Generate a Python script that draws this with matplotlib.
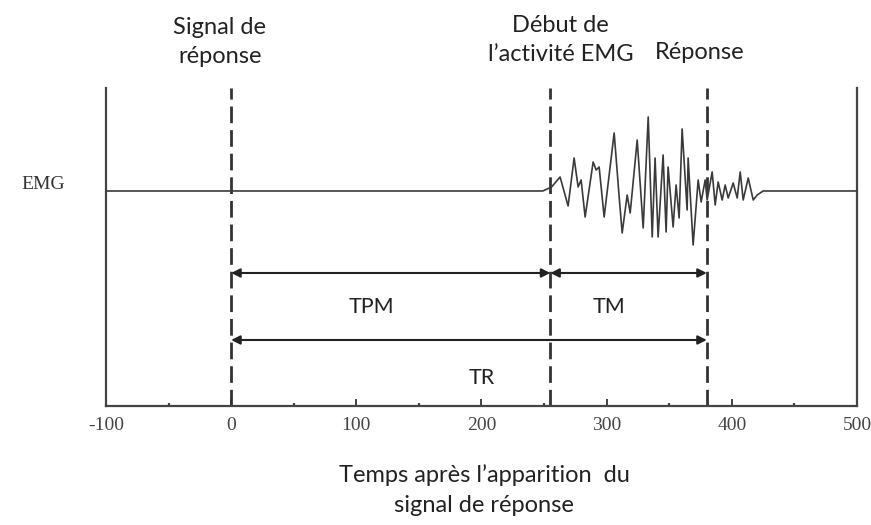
import matplotlib
matplotlib.use("Agg")
import matplotlib.pyplot as plt

plt.rcParams["axes.unicode_minus"] = False

# EMG trace (time in ms, amplitude in arbitrary units, baseline = 0)
emg_t = [-100, 249, 256, 262.8, 269.2, 274.0, 277.2, 279.6, 282.8, 289.2, 291.6, 294.0,
         298.0, 306.0, 310.0, 312.4, 316.4, 318.8, 324.4, 329.2, 333.2, 336.4, 338.7,
         341.1, 345.1, 347.5, 349.1, 353.1, 355.5, 357.9, 360.3, 364.3, 365.1, 369.1,
         373.1, 375.5, 378.7, 380.3, 384.3, 386.7, 389.1, 392.3, 394.7, 397.1, 401.1,
         404.3, 406.7, 409.1, 413.1, 417.1, 420.3, 425.0, 500]
emg_a = [0, 0, 4, 14, -15, 33, 4, 11, -26, 29, 21, 24,
         -26, 58, -6, -42, -4, -22, 51, -37, 74, -46, 33,
         -46, 36, -41, 24, -36, 6, -27, 62, -19, 33, -54,
         11, -11, 11, -9, 19, -14, 9, -9, 6, -7, 8,
         -7, 19, -9, 13, -9, -4, 0, 0]

# event markers (ms)
t_signal = 0
t_onset = 255
t_response = 380

x_ticks = [-100, 0, 100, 200, 300, 400, 500]
x_minor = [-50, 50, 150, 250, 350, 450]

sans = ["Lato", "DejaVu Sans"]
serif = "Liberation Serif"
txt = "#222222"

fig = plt.figure(figsize=(8.71, 5.25), dpi=100)
ax = fig.add_axes([0.1217, 0.2267, 0.8622, 0.6057])
ax.set_xlim(-100, 500)
ax.set_ylim(-215, 103)

ax.plot(emg_t, emg_a, color="#3a3a3a", lw=1.2, zorder=3)

for t in [t_signal, t_onset, t_response]:
    ax.axvline(t, color="#333333", lw=2, linestyle=(0, (6, 2.5)), zorder=2)

# spines and ticks
ax.spines["top"].set_visible(False)
for s in ["left", "right", "bottom"]:
    ax.spines[s].set_color("#444444")
    ax.spines[s].set_linewidth(1.6)
ax.set_yticks([])
ax.set_xticks(x_ticks)
ax.set_xticks(x_minor, minor=True)
ax.tick_params(axis="x", which="major", direction="in", length=5, width=1.4,
               color="#444444", pad=8, labelsize=14, labelcolor="#444444")
ax.tick_params(axis="x", which="minor", direction="in", length=2, width=1.6,
               color="#444444")
for lab in ax.get_xticklabels():
    lab.set_fontfamily(serif)

arrow = dict(arrowstyle="<|-|>", color="#222222", lw=1.5, mutation_scale=13,
             shrinkA=0, shrinkB=0)
ax.annotate("", xy=(t_onset, -82), xytext=(t_signal, -82), arrowprops=arrow)
ax.annotate("", xy=(t_response, -82), xytext=(t_onset, -82), arrowprops=arrow)
ax.annotate("", xy=(t_response, -149), xytext=(t_signal, -149), arrowprops=arrow)

ax.text(111.8, -116, "TPM", ha="center", va="center", fontsize=15.5, family=sans, color=txt)
ax.text(302, -116, "TM", ha="center", va="center", fontsize=15.5, family=sans, color=txt)
ax.text(200.5, -187, "TR", ha="center", va="center", fontsize=15.5, family=sans, color=txt)

ax.text(-132.6, 6, "EMG", ha="right", va="center", fontsize=14, family=serif,
        color="#333333", clip_on=False)

ax.text(-9, 149, "Signal de\nréponse", ha="center", va="center", fontsize=17,
        family=sans, linespacing=1.5, color=txt, clip_on=False)
ax.text(263, 151, "Début de\nl’activité EMG", ha="center", va="center", fontsize=17,
        family=sans, linespacing=1.5, color=txt, clip_on=False)
ax.text(374, 138, "Réponse", ha="center", va="center", fontsize=17,
        family=sans, color=txt, clip_on=False)

ax.text(202, -299, "Temps après l’apparition  du\nsignal de réponse", ha="center",
        va="center", fontsize=17, family=sans, linespacing=1.5, color=txt,
        clip_on=False)

fig.savefig("out.png", dpi=100)
